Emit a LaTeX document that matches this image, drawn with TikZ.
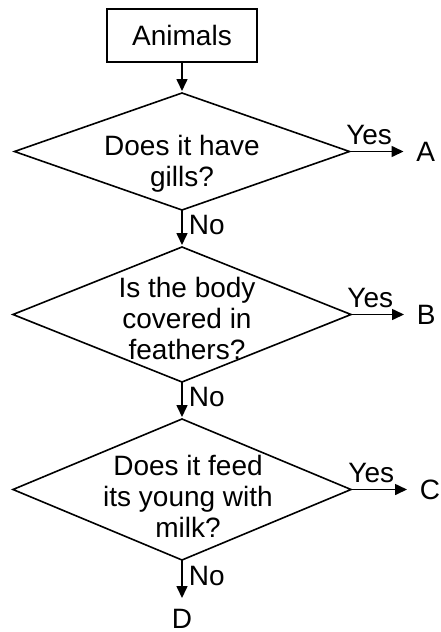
\documentclass[tikz,border=0pt]{standalone}
\usepackage{fontspec}
\setmainfont{Liberation Sans}
\usetikzlibrary{arrows.meta}
\usetikzlibrary{positioning}
\usetikzlibrary{shapes.geometric}
\tikzset{yes/.style={above, pos=0.35, inner sep=3pt}}
\tikzset{no/.style={right, pos=0.4, inner sep=3pt}}
\tikzset{answer/.style={inner sep=5pt}}

\begin{document}
\begin{tikzpicture}[->,>={Triangle[length=6pt,width=5.5pt]},shorten >=1pt, line width=0.8pt, font=\fontsize{14}{15.5}\selectfont]
\tikzstyle{start} = [draw, rectangle, minimum width=75pt, minimum height=26.5pt, inner sep=0pt, outer sep=0pt]
\tikzstyle{question} = [draw, diamond, inner sep=0pt, outer sep=0pt]

\useasboundingbox (0,0) rectangle (220pt,-316pt);

\node[start] (animals) at (91pt,-17.75pt) {Animals};
\node[question, minimum width=167.5pt, minimum height=58.5pt,
      label={[align=center, yshift=-6pt]center:Does it have\\gills?}]
      (gills) [below = 15.5pt of animals] {};
\node[question, minimum width=169pt, minimum height=67.5pt,
      label={[align=center, xshift=2.5pt, yshift=-2pt]center:Is the body\\covered in\\feathers?}]
      (feathers) [below = 18.5pt of gills] {};
\node[question, minimum width=169pt, minimum height=70.5pt,
      label={[align=center, xshift=3pt, yshift=-3.5pt]center:Does it feed\\its young with\\milk?}]
      (milk) [below = 18.5pt of feathers] {};

\node[answer] (A) [right = 28pt of gills]    {A};
\node[answer] (B) [right = 27.5pt of feathers] {B};
\node[answer] (C) [right = 29pt of milk]     {C};
\node[answer, inner sep=4pt] (D) [below = 20pt of milk] {D};

\draw (animals) -- (gills);
\draw (gills) -- node[no] {No} (feathers);
\draw (feathers) -- node[no] {No} (milk);
\draw (milk) -- node[no] {No} (D);

\draw (gills) -- node[yes] {Yes} (A);
\draw (feathers) -- node[yes] {Yes} (B);
\draw (milk) -- node[yes] {Yes} (C);

\end{tikzpicture}
\end{document}
